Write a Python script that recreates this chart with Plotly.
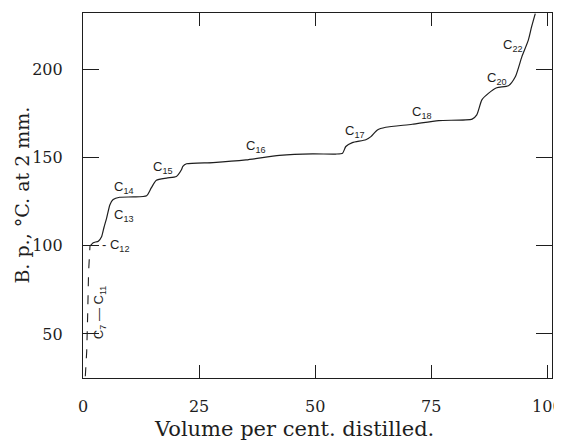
import plotly.graph_objects as go

# Lower, steep (broken) part of the distillation curve
vol_low = [0.5, 0.8, 1.0, 1.2, 1.5]
bp_low = [26, 40, 60, 85, 99.8]

# Main distillation curve: volume per cent distilled vs boiling point (°C at 2 mm)
vol = [1.5, 2.2, 3.3, 4.0, 4.5, 5.1, 5.8, 6.5, 7.9, 10.8, 13.7, 14.7, 15.8, 18.0, 20.1,
       21.2, 21.5, 22.3, 28.0, 35.1, 42.3, 49.4, 54.4, 55.9, 56.6, 58.0, 60.9, 62.0,
       63.4, 65.2, 70.9, 76.6, 83.8, 84.8, 85.9, 87.3, 89.1, 91.6, 93.1, 94.5, 95.9,
       96.6, 97.4]
bp = [99.8, 101.7, 102.6, 105.1, 110.2, 115.8, 123.3, 126.2, 127.5, 127.7, 128.4, 132.8,
      137.1, 138.4, 139.3, 143.1, 145.0, 146.5, 147.2, 148.7, 151.2, 152.1, 152.0, 152.5,
      156.3, 158.5, 160.1, 161.9, 165.7, 167.2, 168.9, 171.0, 171.8, 174.2, 182.7, 186.4,
      189.6, 190.7, 195.8, 207.1, 216.6, 224.1, 231.6]

# Fraction labels
label_text = ["- C<sub>12</sub>", "C<sub>13</sub>", "C<sub>14</sub>", "C<sub>15</sub>",
              "C<sub>16</sub>", "C<sub>17</sub>", "C<sub>18</sub>", "C<sub>20</sub>",
              "C<sub>22</sub>"]
label_x = [6.9, 8.8, 8.8, 17.2, 37.3, 58.6, 73.0, 89.1, 92.7]
label_y = [100.0, 117.0, 132.9, 144.2, 156.1, 164.6, 175.3, 195.1, 213.7]

rot_label_text = "C<sub>7</sub> — C<sub>11</sub>"
rot_label_x = 3.6
rot_label_y = 62.2

x_ticks = [0, 25, 50, 75, 100]
y_ticks = [50, 100, 150, 200]

ink = "#1e1e1e"
serif = "DejaVu Serif"

fig = go.Figure()
fig.add_trace(go.Scatter(x=vol_low, y=bp_low, mode="lines",
                         line=dict(color=ink, width=1.1, dash="dash"),
                         showlegend=False, hoverinfo="skip"))
fig.add_trace(go.Scatter(x=vol, y=bp, mode="lines",
                         line=dict(color=ink, width=1.2, shape="spline", smoothing=0.6),
                         showlegend=False))

annotations = []
for t, x, y in zip(label_text, label_x, label_y):
    annotations.append(dict(x=x, y=y, xref="x", yref="y", text=t, showarrow=False,
                            font=dict(family="Liberation Sans", size=13, color=ink)))
annotations.append(dict(x=rot_label_x, y=rot_label_y, xref="x", yref="y",
                        text=rot_label_text, showarrow=False, textangle=-90,
                        font=dict(family="Liberation Sans", size=13, color=ink)))
annotations.append(dict(x=45.5, y=-0.14, xref="x", yref="paper",
                        text="Volume per cent. distilled.", showarrow=False,
                        yanchor="middle", xanchor="center",
                        font=dict(family=serif, size=21, color=ink)))
annotations.append(dict(x=-0.132, y=0.5, xref="paper", yref="paper",
                        text="B. p., °C. at 2 mm.", showarrow=False, textangle=-90,
                        xanchor="center", yanchor="middle",
                        font=dict(family=serif, size=19, color=ink)))

# The page body adds an 8 px margin, so the figure is 8 px smaller each way
fig.update_layout(
    width=554, height=434,
    margin=dict(l=75, r=10, t=5, b=64),
    paper_bgcolor="white", plot_bgcolor="white",
    showlegend=False,
    annotations=annotations,
    xaxis=dict(range=[0, 101], tickvals=x_ticks, ticktext=[str(v) for v in x_ticks],
               ticks="inside", ticklen=13, tickcolor=ink, tickwidth=1,
               showline=True, linecolor=ink, linewidth=1.2, mirror="allticks",
               showgrid=False, zeroline=False, ticklabelstandoff=14,
               automargin=False, ticklabeloverflow="allow",
               tickfont=dict(family=serif, size=16, color=ink)),
    yaxis=dict(range=[25, 232], tickvals=y_ticks, ticktext=[str(v) for v in y_ticks],
               ticks="inside", ticklen=16, tickcolor=ink, tickwidth=1,
               showline=True, linecolor=ink, linewidth=1.2, mirror="allticks",
               showgrid=False, zeroline=False, ticklabelstandoff=16,
               automargin=False, ticklabeloverflow="allow",
               tickfont=dict(family=serif, size=16, color=ink)),
)

fig.write_html("out.html")
